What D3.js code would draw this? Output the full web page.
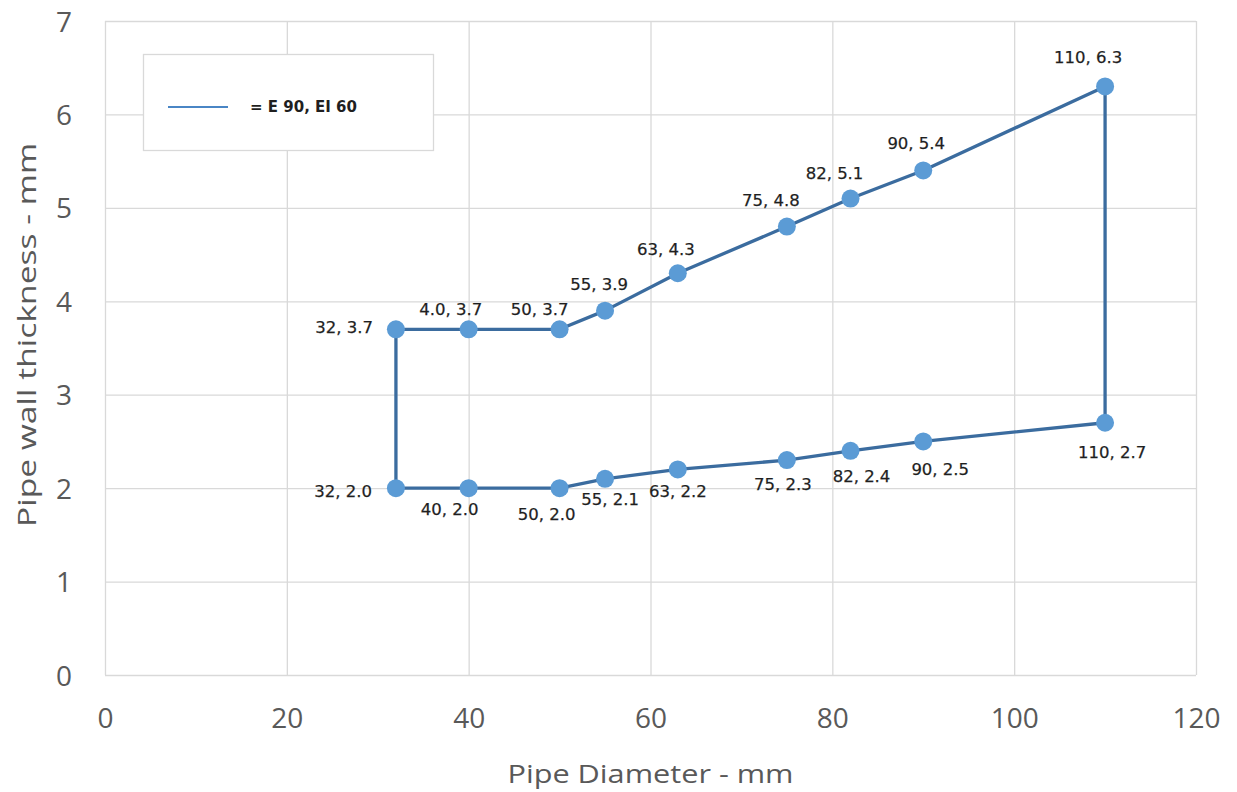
<!DOCTYPE html>
<html>
<head>
<meta charset="utf-8">
<script src="https://cdn.jsdelivr.net/npm/d3@7"></script>
<style>
  html, body { margin: 0; padding: 0; background: #fff; }
  svg { display: block; }
</style>
</head>
<body>
<svg id="chart" width="1237" height="792"></svg>
<script>
// ---- data ----
const diameters = [32, 32, 40, 50, 55, 63, 75, 82, 90, 110, 110, 90, 82, 75, 63, 55, 50, 40];
const thickness = [2.0, 3.7, 3.7, 3.7, 3.9, 4.3, 4.8, 5.1, 5.4, 6.3, 2.7, 2.5, 2.4, 2.3, 2.2, 2.1, 2.0, 2.0];
const pointLabels = ["32, 2.0", "32, 3.7", "4.0, 3.7", "50, 3.7", "55, 3.9", "63, 4.3", "75, 4.8", "82, 5.1", "90, 5.4",
  "110, 6.3", "110, 2.7", "90, 2.5", "82, 2.4", "75, 2.3", "63, 2.2", "55, 2.1", "50, 2.0", "40, 2.0"];
const xTicks = [0, 20, 40, 60, 80, 100, 120];
const yTicks = [0, 1, 2, 3, 4, 5, 6, 7];
const legendLabel = "= E 90, EI 60";
const xTitle = "Pipe Diameter - mm";
const yTitle = "Pipe wall thickness - mm";

// label placement (layout only): [anchor, dx, dy baseline offset]
const labelPlacement = [
  ["end", -24, 9], ["end", -23, 4], ["middle", -18, -14], ["middle", -20, -14], ["middle", -6, -21],
  ["middle", -12, -18], ["middle", -16, -21], ["middle", -16, -20], ["middle", -7, -21],
  ["middle", -17, -23], ["middle", 7, 35], ["middle", 17, 34], ["middle", 11, 31], ["middle", -4, 30],
  ["middle", 0, 28], ["middle", 5, 26], ["middle", -13, 32], ["middle", -19, 27]
];

const svg = d3.select("#chart");
const pLeft = 105, pRight = 1196, pTop = 21, pBottom = 675;

const x = d3.scaleLinear().domain([0, 120]).range([pLeft, pRight]);
const y = d3.scaleLinear().domain([0, 7]).range([pBottom, pTop]);

const gridColor = "#d9d9d9";
const textColor = "#595959";

// gridlines
svg.append("g").selectAll("line").data(yTicks).join("line")
  .attr("x1", pLeft).attr("x2", pRight)
  .attr("y1", d => y(d) + 0.5).attr("y2", d => y(d) + 0.5)
  .attr("stroke", gridColor).attr("stroke-width", 1.3);
svg.append("g").selectAll("line").data(xTicks).join("line")
  .attr("y1", pTop).attr("y2", pBottom)
  .attr("x1", d => x(d) + 0.5).attr("x2", d => x(d) + 0.5)
  .attr("stroke", gridColor).attr("stroke-width", 1.3);

// axes (labels only)
const xAxis = d3.axisBottom(x).tickValues(xTicks).tickFormat(d3.format("d")).tickSize(0).tickPadding(0);
const gx = svg.append("g").attr("transform", `translate(0,${pBottom})`).call(xAxis);
gx.select(".domain").remove();
gx.selectAll("text")
  .attr("dy", null).attr("y", 53)
  .attr("font-family", "'Open Sans', sans-serif").attr("font-size", 28)
  .attr("fill", textColor);

const yAxis = d3.axisLeft(y).tickValues(yTicks).tickFormat(d3.format("d")).tickSize(0).tickPadding(0);
const gy = svg.append("g").attr("transform", `translate(${pLeft},0)`).call(yAxis);
gy.select(".domain").remove();
gy.selectAll("text")
  .attr("x", -33).attr("dy", "0.36em")
  .attr("font-family", "'Open Sans', sans-serif").attr("font-size", 28)
  .attr("fill", textColor);

// axis titles
svg.append("text")
  .attr("x", (pLeft + pRight) / 2).attr("y", 783)
  .attr("text-anchor", "middle")
  .attr("font-family", "'Open Sans', sans-serif").attr("font-size", 26)
  .attr("textLength", 286).attr("lengthAdjust", "spacingAndGlyphs")
  .attr("fill", textColor).text(xTitle);

svg.append("text")
  .attr("transform", `translate(36,335) rotate(-90)`)
  .attr("text-anchor", "middle")
  .attr("font-family", "'Open Sans', sans-serif").attr("font-size", 26)
  .attr("textLength", 384).attr("lengthAdjust", "spacingAndGlyphs")
  .attr("fill", textColor).text(yTitle);

// data
const pts = diameters.map((d, i) => ({ x: d, y: thickness[i], label: pointLabels[i], place: labelPlacement[i] }));

const line = d3.line().x(d => x(d.x)).y(d => y(d.y)).curve(d3.curveLinearClosed);
svg.append("path").datum(pts)
  .attr("d", line)
  .attr("fill", "none")
  .attr("stroke", "#3b6c9f")
  .attr("stroke-width", 3.3)
  .attr("stroke-linejoin", "round");

svg.append("g").selectAll("circle").data(pts).join("circle")
  .attr("cx", d => x(d.x)).attr("cy", d => y(d.y))
  .attr("r", 9)
  .attr("fill", "#5b9bd5");

svg.append("g").selectAll("text").data(pts).join("text")
  .attr("x", d => x(d.x) + d.place[1])
  .attr("y", d => y(d.y) + d.place[2])
  .attr("text-anchor", d => d.place[0])
  .attr("font-family", "'DejaVu Sans', 'Noto Sans', sans-serif").attr("font-size", 16.5)
  .attr("fill", "#1f1f1f")
  .attr("stroke", "#1f1f1f").attr("stroke-width", 0.25)
  .text(d => d.label);

// legend
const lg = svg.append("g");
lg.append("rect").attr("x", 143.5).attr("y", 54.5).attr("width", 290).attr("height", 96)
  .attr("fill", "#fff").attr("stroke", gridColor).attr("stroke-width", 1.3);
lg.append("line").attr("x1", 168).attr("x2", 228).attr("y1", 107).attr("y2", 107)
  .attr("stroke", "#4a86c5").attr("stroke-width", 2);
lg.append("text").attr("x", 250).attr("y", 112)
  .attr("font-family", "'DejaVu Sans', sans-serif").attr("font-weight", "bold").attr("font-size", 15)
  .attr("fill", "#1f1f1f").text(legendLabel);
</script>
</body>
</html>
